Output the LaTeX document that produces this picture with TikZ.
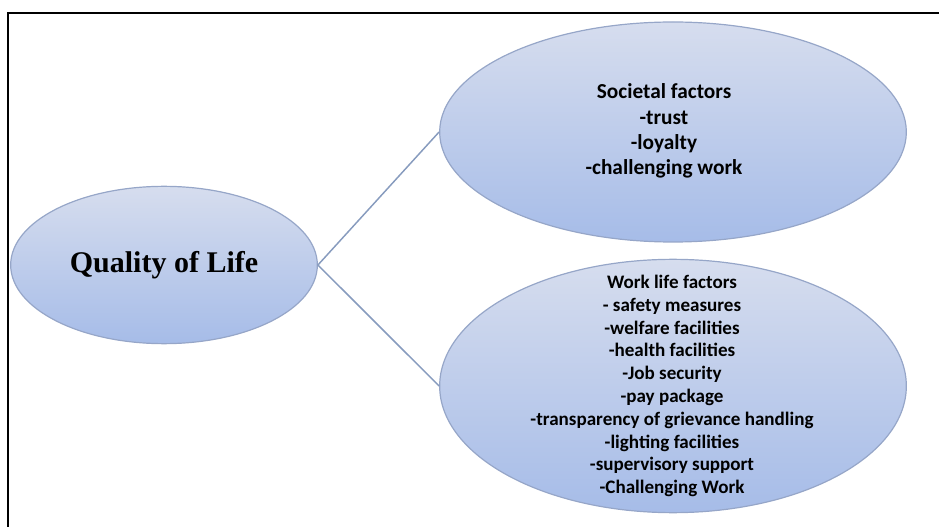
\documentclass[tikz,border=0pt]{standalone}
\usepackage{fontspec}
\setmainfont{Carlito}
\newfontfamily\qolfont{Liberation Serif}
\usetikzlibrary{shapes.geometric}
\definecolor{ovaltop}{RGB}{214,221,238}
\definecolor{ovalbot}{RGB}{166,188,232}
\definecolor{ovaledge}{RGB}{150,166,200}
\definecolor{linkcol}{RGB}{135,155,190}
\tikzset{every picture/.style={line width=0.75pt}}
\tikzset{
  oval/.style={ellipse, draw=ovaledge, line width=0.9pt, top color=ovaltop, bottom color=ovalbot, inner sep=0pt},
  link/.style={draw=linkcol, line width=1.1pt},
  ovaltext/.style={align=center, inner sep=0pt, font=\bfseries}
}

\begin{document}
\begin{tikzpicture}[x=0.75pt,y=0.75pt,yscale=-1,xscale=1]
\useasboundingbox (0,0) rectangle (939,527);
% frame
\draw [line width=1.5pt] (8,527) -- (8,13) -- (939,13) ;
% ovals
\node (qol) [oval, minimum width=230pt, minimum height=118pt] at (164,265) {};
\node (soc) [oval, minimum width=350pt, minimum height=165pt] at (673,132) {};
\node (work) [oval, minimum width=350pt, minimum height=190pt] at (673,386) {};
% links
\draw [link] (qol.east) -- (soc.west) ;
\draw [link] (qol.east) -- (work.west) ;
% texts
\node (qoltext) [inner sep=0pt, font=\qolfont\bfseries\fontsize{22.5}{27}\selectfont] at (qol.center) {Quality of Life};
\node (soctext) [ovaltext, font=\bfseries\fontsize{16}{19}\selectfont] at (664,131) {Societal factors\\-trust\\-loyalty\\-challenging work};
\node (worktext) [ovaltext, font=\bfseries\fontsize{14.3}{17.1}\selectfont] at (672,386) {Work life factors\\- safety measures\\-welfare facilities\\-health facilities\\-Job security\\-pay package\\-transparency of grievance handling\\-lighting facilities\\-supervisory support\\-Challenging Work};
\end{tikzpicture}
\end{document}
